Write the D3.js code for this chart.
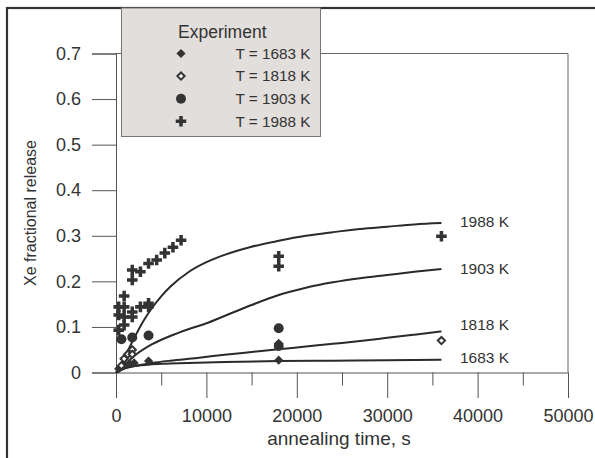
<!DOCTYPE html>
<html>
<head>
<meta charset="utf-8">
<script src="https://cdn.jsdelivr.net/npm/d3@7"></script>
<style>
body { margin: 0; background: #fff; }
svg text { font-family: "Liberation Sans", Arial, sans-serif; fill: #333; }
</style>
</head>
<body>
<svg id="chart" width="595" height="458"></svg>
<script>
// experiment points [time s, fraction]
let exp1683 = [[300, 0.008], [900, 0.016], [1500, 0.02], [2000, 0.021], [3600, 0.025], [18000, 0.027]];
let exp1818 = [[600, 0.015], [900, 0.03], [1300, 0.04], [1800, 0.05], [1800, 0.04], [18000, 0.063], [36000, 0.07]];
let exp1903 = [[600, 0.073], [1800, 0.077], [3600, 0.081], [18000, 0.097], [18000, 0.058]];
let exp1988 = [[300, 0.093], [300, 0.126], [300, 0.144], [900, 0.104], [900, 0.122], [900, 0.144], [900, 0.168],
    [1800, 0.133], [1800, 0.122], [2700, 0.144], [3600, 0.152], [3600, 0.144],
    [1800, 0.225], [1800, 0.203], [2700, 0.221], [3600, 0.239], [4500, 0.247], [5400, 0.262], [6300, 0.275], [7200, 0.29],
    [18000, 0.255], [18000, 0.233], [36000, 0.299]];

// model curves
let model1683 = [[0, 0], [1000, 0.01], [2000, 0.014], [4000, 0.018], [8000, 0.021], [12000, 0.023], [18000, 0.025], [24000, 0.026], [30000, 0.027], [36000, 0.028]];
let model1818 = [[0, 0], [1000, 0.009], [2000, 0.014], [4000, 0.021], [6000, 0.026], [9000, 0.032], [12000, 0.039], [15000, 0.045], [18000, 0.051], [21000, 0.057], [24000, 0.063], [27000, 0.069], [30000, 0.076], [33000, 0.083], [36000, 0.09]];
let model1903 = [[0, 0], [1000, 0.018], [2000, 0.036], [4000, 0.062], [6000, 0.08], [8000, 0.095], [10000, 0.108], [12000, 0.124], [15000, 0.148], [18000, 0.17], [21000, 0.186], [24000, 0.198], [27000, 0.207], [30000, 0.214], [33000, 0.221], [36000, 0.227]];
let model1988 = [[0, 0], [500, 0.012], [1000, 0.035], [2000, 0.075], [3000, 0.112], [4000, 0.142], [5000, 0.167], [6000, 0.188], [8000, 0.22], [10000, 0.242], [12000, 0.258], [15000, 0.276], [18000, 0.289], [21000, 0.3], [24000, 0.308], [27000, 0.315], [30000, 0.32], [33000, 0.325], [36000, 0.328]];

let curveLabels = ["1683 K", "1818 K", "1903 K", "1988 K"];
let legendLabels = ["T = 1683 K", "T = 1818 K", "T = 1903 K", "T = 1988 K"];
let xTicks = [0, 10000, 20000, 30000, 40000, 50000];
let yTicks = [0, 0.1, 0.2, 0.3, 0.4, 0.5, 0.6, 0.7];

let svg = d3.select('#chart');
let ink = '#333';
let plotLeft = 116, plotRight = 568, plotTop = 53.5, plotBottom = 372.5;

let x = d3.scaleLinear().domain([0, 50000]).range([plotLeft, plotRight]);
let y = d3.scaleLinear().domain([0, 0.7]).range([plotBottom, plotTop]);

// outer frame
svg.append('rect')
    .attr('x', 7).attr('y', 8).attr('width', 620).attr('height', 470)
    .attr('fill', 'none').attr('stroke', ink).attr('stroke-width', 2.2);

// plot frame top / right
svg.append('path')
    .attr('d', `M${plotLeft},${plotTop}H${plotRight}V${plotBottom}`)
    .attr('fill', 'none').attr('stroke', '#666').attr('stroke-width', 1);

// x axis
let xAxis = svg.append('g').attr('transform', `translate(0,${plotBottom})`)
    .call(d3.axisBottom(x).tickValues(xTicks).tickSize(25.5).tickPadding(11).tickFormat(d3.format('d')));
xAxis.select('.domain').attr('stroke', '#555');
xAxis.selectAll('.tick line').attr('stroke', '#555');
xAxis.selectAll('.tick text').attr('font-size', 18).attr('fill', ink);
// minor x ticks
svg.append('g').selectAll('line')
    .data([5000, 15000, 25000, 35000, 45000])
    .enter().append('line')
    .attr('x1', d => x(d) + 0.5).attr('x2', d => x(d) + 0.5)
    .attr('y1', plotBottom).attr('y2', plotBottom + 13)
    .attr('stroke', '#555');

// y axis
let yAxis = svg.append('g').attr('transform', `translate(${plotLeft},0)`)
    .call(d3.axisLeft(y).tickValues(yTicks).tickSize(24).tickPadding(11).tickFormat(d => d === 0 ? '0' : d3.format('.1f')(d)));
yAxis.select('.domain').attr('stroke', '#555');
yAxis.selectAll('.tick line').attr('stroke', '#555');
yAxis.selectAll('.tick text').attr('font-size', 18).attr('fill', ink);

// axis titles
svg.append('text')
    .attr('x', 339).attr('y', 445)
    .attr('text-anchor', 'middle').attr('font-size', 19)
    .text('annealing time, s');
svg.append('text')
    .attr('transform', 'translate(36,213) rotate(-90)')
    .attr('text-anchor', 'middle').attr('font-size', 16)
    .text('Xe fractional release');

// model lines
let line = d3.line()
    .x(d => x(d[0]))
    .y(d => y(d[1]))
    .curve(d3.curveMonotoneX);
let models = [model1683, model1818, model1903, model1988];
svg.append('g').selectAll('path')
    .data(models)
    .enter().append('path')
    .attr('d', line)
    .attr('fill', 'none').attr('stroke', '#2a2a2a').attr('stroke-width', 2);

svg.append('g').selectAll('text')
    .data(models)
    .enter().append('text')
    .attr('x', 460)
    .attr('y', (d, i) => [357.5, 324.5, 268.5, 222][i])
    .attr('dy', '0.35em')
    .attr('font-size', 15.5)
    .text((d, i) => curveLabels[i]);

// markers
function diamond(s) {
    return `M0,${-s}L${s},0L0,${s}L${-s},0Z`;
}
let plusPath = d3.symbol().type(d3.symbolCross).size(62)();
let circlePath = d3.symbol().type(d3.symbolCircle).size(78)();

function drawMarker(g, kind) {
    if (kind === 0) {
        g.append('path').attr('d', diamond(4.6)).attr('fill', ink);
    } else if (kind === 1) {
        g.append('path').attr('d', diamond(3.6)).attr('fill', '#fff').attr('stroke', ink).attr('stroke-width', 2);
    } else if (kind === 2) {
        g.append('path').attr('d', circlePath).attr('fill', ink);
    } else {
        g.append('path').attr('d', plusPath).attr('fill', ink);
    }
}

let experiments = [exp1683, exp1818, exp1903, exp1988];
experiments.forEach(function (pts, k) {
    svg.append('g').selectAll('g')
        .data(pts)
        .enter().append('g')
        .attr('transform', d => `translate(${x(d[0])},${y(d[1])})`)
        .each(function () { drawMarker(d3.select(this), k); });
});

// legend
let legend = svg.append('g');
legend.append('rect')
    .attr('x', 121.5).attr('y', 8).attr('width', 199).attr('height', 128.5)
    .attr('fill', '#e2dedb').attr('stroke', '#777').attr('stroke-width', 1);
legend.append('text')
    .attr('x', 178).attr('y', 38)
    .attr('font-size', 17.5)
    .text('Experiment');
legendLabels.forEach(function (label, i) {
    let yy = 53.5 + i * 22.6;
    let g = legend.append('g').attr('transform', `translate(181,${yy})`);
    drawMarker(g, i);
    legend.append('text')
        .attr('x', 235.5).attr('y', yy).attr('dy', '0.35em')
        .attr('font-size', 15.3)
        .text(label);
});
</script>
</body>
</html>
